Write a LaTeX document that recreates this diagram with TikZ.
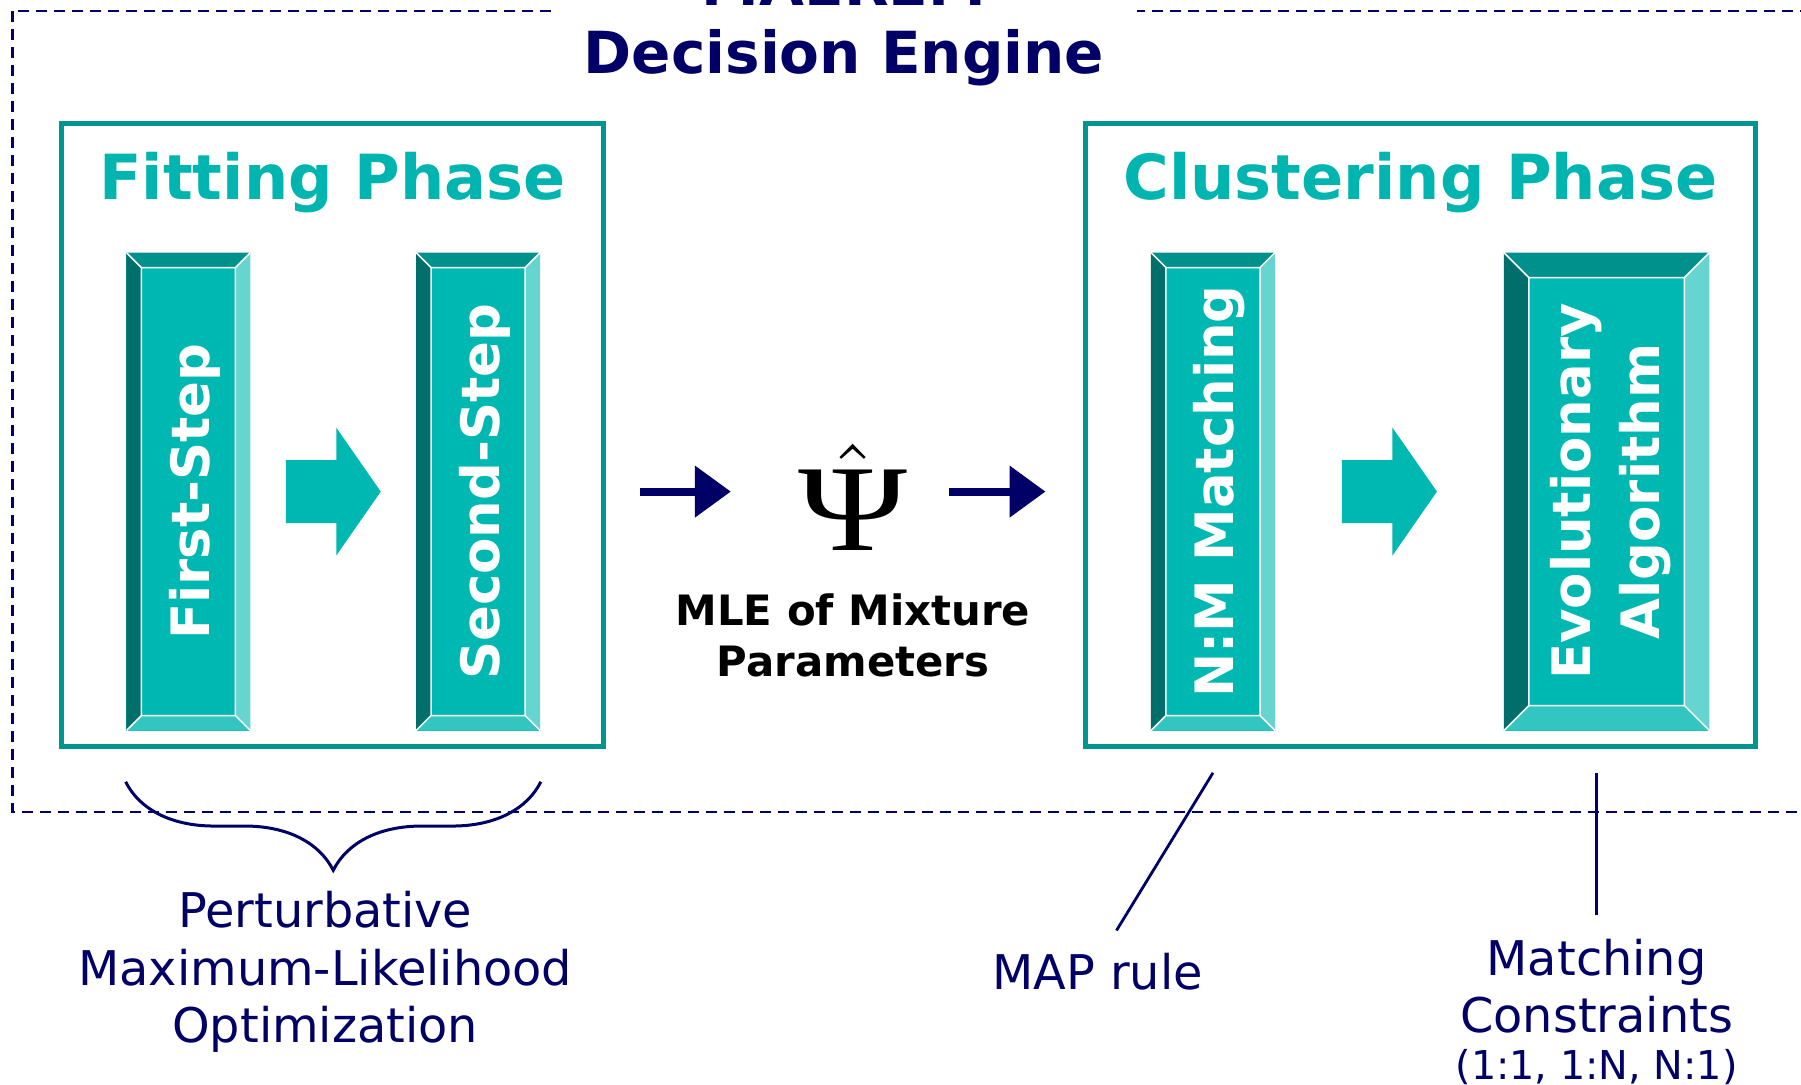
\documentclass[tikz,border=0pt]{standalone}
\usepackage[no-math]{fontspec}
\setmainfont{DejaVu Sans}
\newfontfamily\psifont{Liberation Serif}
\usepackage{graphicx}
\usepackage{tikz}
\usetikzlibrary{arrows.meta, positioning, calc, decorations.pathreplacing}
\definecolor{engineblue}{HTML}{000066}
\definecolor{phaseteal}{HTML}{00968F}
\definecolor{headteal}{HTML}{00B5AF}
\definecolor{barmain}{HTML}{00B8B2}
\definecolor{barleft}{HTML}{006E6A}
\definecolor{bartop}{HTML}{00918C}
\definecolor{barright}{HTML}{66D5D0}
\definecolor{barbottom}{HTML}{33C6C0}
\tikzset{
    bevel/.store in=\bevelsize, bevel=1.5mm,
    enginebox/.style={draw=engineblue, line width=0.25mm, dash pattern=on 1.1mm off 0.7mm},
    title/.style={font=\fontsize{16.5}{19.3}\selectfont\bfseries, text=engineblue, inner xsep=0pt},
    phase/.style={rectangle, draw=phaseteal, line width=0.5mm, fill=white, minimum height=62.3mm},
    heading/.style={font=\fontsize{17.7}{20}\selectfont\bfseries, text=headteal, inner sep=0pt},
    bar/.style={rectangle, fill=barmain, inner sep=0pt, text=white, minimum height=47.8mm,
        font=\fontsize{15.05}{17.6}\selectfont\bfseries,
        path picture={
            \coordinate (bNW) at (path picture bounding box.north west);
            \coordinate (bNE) at (path picture bounding box.north east);
            \coordinate (bSW) at (path picture bounding box.south west);
            \coordinate (bSE) at (path picture bounding box.south east);
            \coordinate (iNW) at ([shift={(\bevelsize,-\bevelsize)}]bNW);
            \coordinate (iNE) at ([shift={(-\bevelsize,-\bevelsize)}]bNE);
            \coordinate (iSW) at ([shift={(\bevelsize,\bevelsize)}]bSW);
            \coordinate (iSE) at ([shift={(-\bevelsize,\bevelsize)}]bSE);
            \fill[bartop] (bNW) -- (bNE) -- (iNE) -- (iNW) -- cycle;
            \fill[barleft] (bNW) -- (iNW) -- (iSW) -- (bSW) -- cycle;
            \fill[barright] (bNE) -- (bSE) -- (iSE) -- (iNE) -- cycle;
            \fill[barbottom] (bSW) -- (iSW) -- (iSE) -- (bSE) -- cycle;
            \draw[white, line width=0.15mm] (iNW) rectangle (iSE)
                (bNW) -- (iNW) (bNE) -- (iNE) (bSW) -- (iSW) (bSE) -- (iSE);
        }},
    flow/.style={-{Triangle[length=3.6mm, width=5mm]}, line width=0.8mm, draw=engineblue},
    pointer/.style={draw=engineblue, line width=0.28mm},
    brace/.style={decorate, decoration={brace, mirror, amplitude=8.85mm}, draw=engineblue, line width=0.3mm},
    note/.style={font=\fontsize{13.6}{16.3}\selectfont, text=engineblue, align=center, inner sep=0pt},
    mle/.style={font=\fontsize{11.9}{14.5}\selectfont\bfseries, align=center, inner sep=0pt}
}
% teal block arrow, centred between two bars
\newcommand{\blockarrow}[2]{%
    \fill[barmain] ($(#1.east)!0.5!(#2.west)$) ++(-4.75mm,3.15mm) -- ++(5.05mm,0) -- ++(0,3.25mm)
        -- ++(4.45mm,-6.4mm) -- ++(-4.45mm,-6.4mm) -- ++(0,3.25mm) -- ++(-5.05mm,0) -- cycle;}
% upright bar label, read from bottom to top
\newcommand{\bartext}[1]{\rotatebox{90}{\raisebox{-1.8pt}[\height][\depth]{#1}}}

\begin{document}
\begin{tikzpicture}[x=0.1mm, y=-0.1mm]
    \useasboundingbox (0,0) rectangle (1801,1085);
    \clip (0,0) rectangle (1801,1085);

    % decision engine frame and title
    \draw[enginebox] (12.6,11) rectangle (1830,812);
    \node[title, anchor=base] (enginename) at (844,6) {MAEREM};
    \node[title, fill=white, minimum width=58.6mm, inner ysep=2.3mm, anchor=base] (engine) at (844,74) {Decision Engine};

    % fitting phase
    \node[phase, minimum width=54.3mm] (fitting) at (332.5,435.5) {};
    \node[heading, anchor=base] (fithead) at ([yshift=-7.8mm]fitting.north) {Fitting Phase};
    \node[bar, minimum width=12.41mm] (first) at (188.4,491.6) {\bartext{First-Step}};
    \node[bar, minimum width=12.41mm, right=16.42mm of first] (second) {\bartext{Second-Step}};
    \blockarrow{first}{second}

    % clustering phase
    \node[phase, minimum width=67mm] (clustering) at (1420.5,435.5) {};
    \node[heading, anchor=base] (clushead) at ([yshift=-7.8mm]clustering.north) {Clustering Phase};
    \node[bar, minimum width=12.41mm] (nm) at (1213,491.6) {\bartext{N:M Matching}};
    \node[bar, bevel=2.5mm, minimum width=20.56mm, right=22.74mm of nm] (evo)
        {\bartext{\begin{tabular}{@{}c@{}}Evolutionary\\[2pt]Algorithm\end{tabular}}};
    \blockarrow{nm}{evo}

    % estimate handed from one phase to the other
    \node[inner sep=0pt, anchor=base] (psi) at (853,551)
        {\scalebox{2.8}{$\hat{\hbox{\fontsize{12.5}{14}\selectfont\psifont\scalebox{1.2}[1]{Ψ}}}$}};
    \node[mle, below=4.1mm of psi] (mle) {MLE of Mixture\\Parameters};
    \draw[flow, shorten <=3.35mm, shorten >=6.7mm] (fitting.east |- first) -- (psi.west |- first);
    \draw[flow, shorten <=4.1mm, shorten >=3.75mm] (psi.east |- first) -- (clustering.west |- first);

    % notes below the frame
    \draw[brace] ([yshift=-5.05mm]first.south west) -- ([yshift=-5.05mm]second.south east);
    \coordinate (bracetip) at ($(first.south west)!0.5!(second.south east)+(0,-13.9mm)$);
    \node[note, below=2.05mm of bracetip, xshift=-0.8mm] (pmlo) {Perturbative\\Maximum-Likelihood\\Optimization};

    \node[note, anchor=base] (maprule) at (1097.5,990) {MAP rule};
    \draw[pointer] ([yshift=-4.15mm]nm.south) -- ([shift={(1.9mm,2.25mm)}]maprule.north);

    \node[note, anchor=north] (constraints) at (1596.6,938)
        {Matching\\Constraints\\[-2.9pt]{\fontsize{11.3}{13}\selectfont (1:1, 1:N, N:1)}};
    \draw[pointer] ([yshift=2.25mm]constraints.north) -- ([yshift=-4.15mm]constraints.north |- evo.south);
\end{tikzpicture}
\end{document}
